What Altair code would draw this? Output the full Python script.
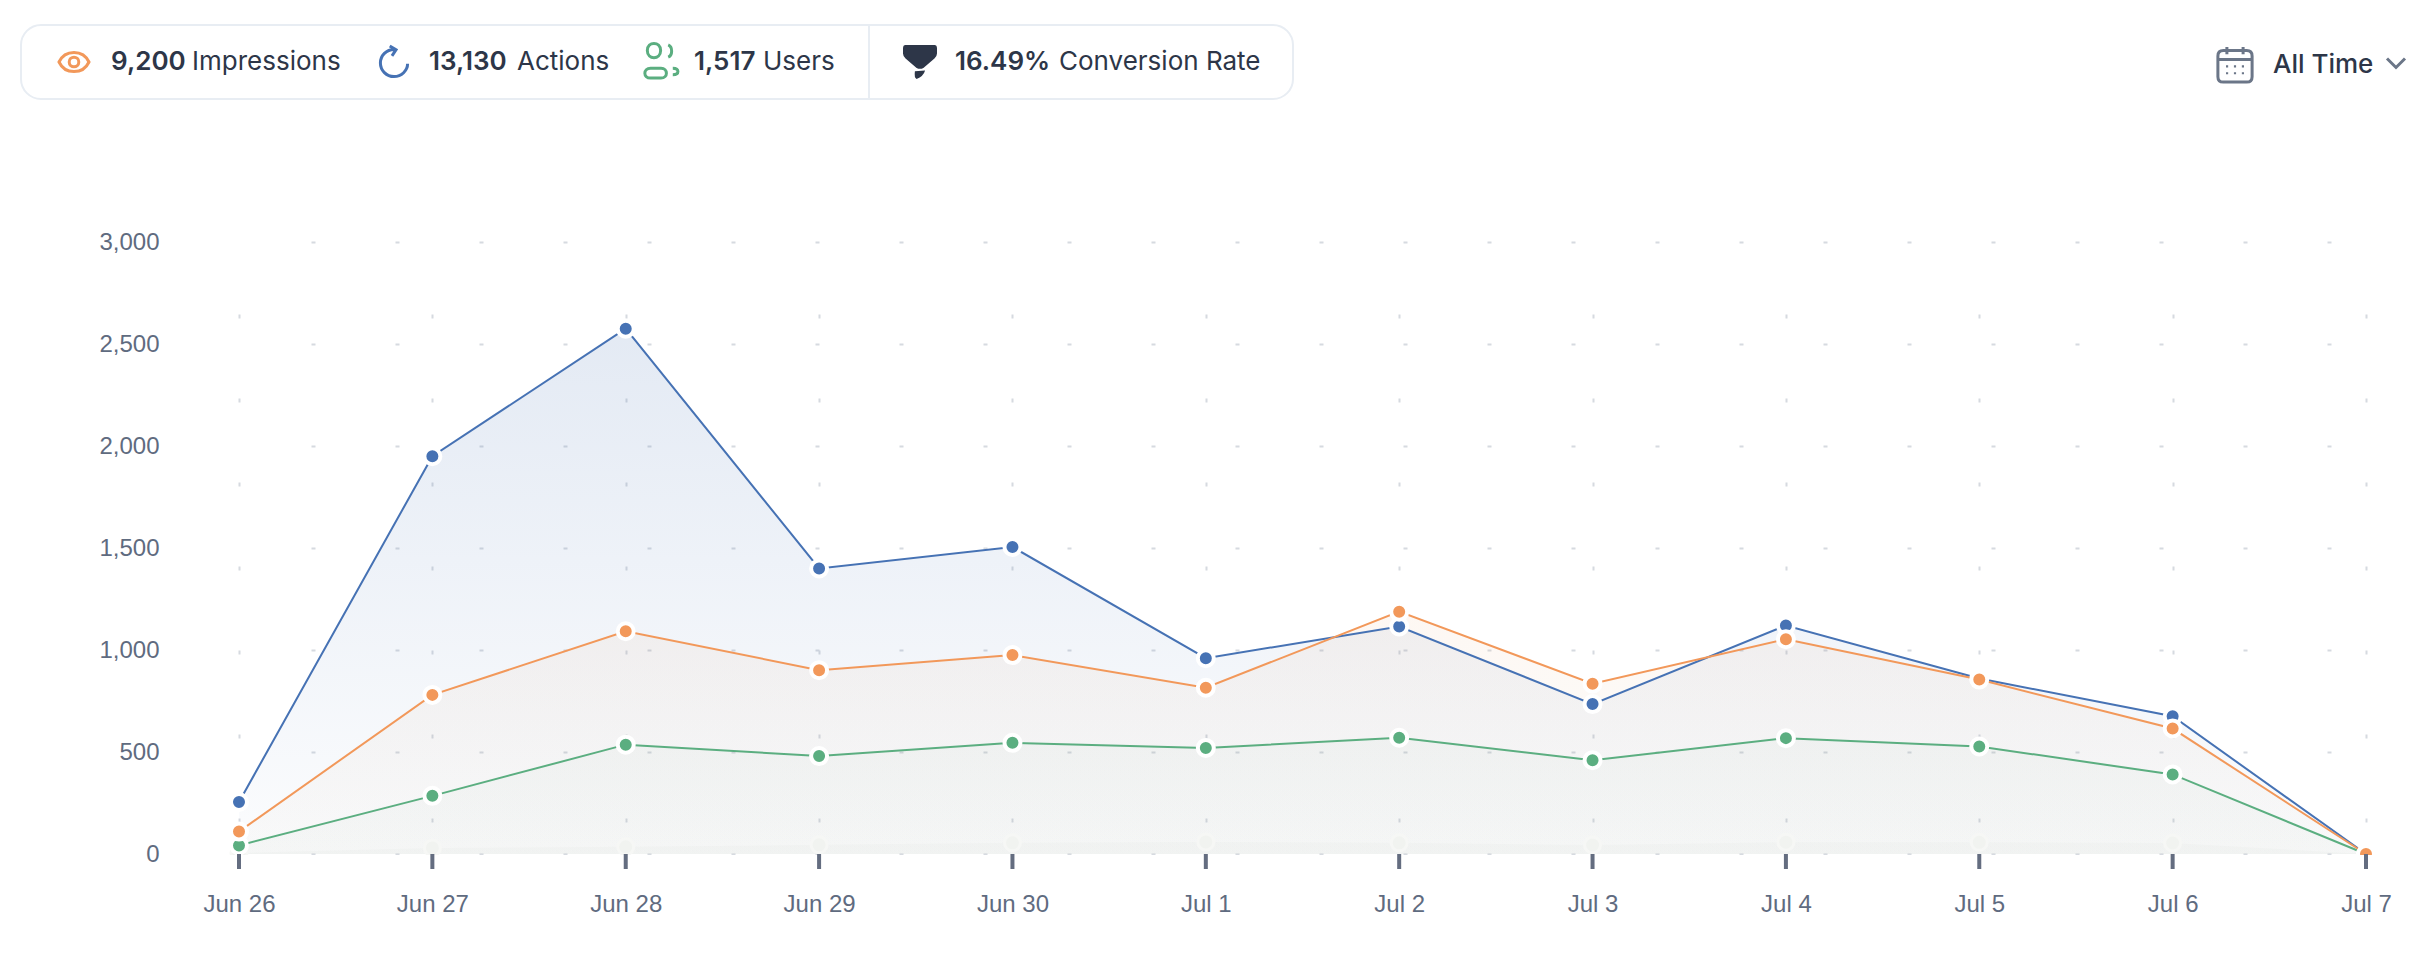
import altair as alt
import pandas as pd

dates = ["Jun 26", "Jun 27", "Jun 28", "Jun 29", "Jun 30", "Jul 1", "Jul 2", "Jul 3", "Jul 4", "Jul 5", "Jul 6", "Jul 7"]
actions = [255, 1950, 2575, 1400, 1505, 960, 1115, 735, 1120, 860, 675, 0]
impressions = [110, 780, 1092, 901, 975, 815, 1188, 835, 1053, 855, 615, 0]
users = [42, 285, 536, 480, 545, 520, 570, 460, 568, 527, 390, 0]
faint = [5, 30, 35, 45, 55, 59, 55, 44, 58, 57, 54, 0]

BLUE, ORANGE, GREEN = "#4672b4", "#f2985a", "#5bae80"
INK, MUTED, SLATE = "#2d3648", "#5f6b80", "#6b7688"
FONT = "Inter"

W, H = 2127, 612
OX, OY = 239, 242


def px(v):
    return alt.value(v - OX)


def py(v):
    return alt.value(v - OY)


x_enc = alt.X(
    "date:N",
    sort=dates,
    title=None,
    scale=alt.Scale(type="point", padding=0),
    axis=alt.Axis(
        labelAngle=0, labelFont="Liberation Sans", labelFontSize=24, labelColor=MUTED,
        labelPadding=38, ticks=False, domain=False,
        grid=True, gridColor="#d6dae0", gridWidth=2, gridDash=[4, 80], gridDashOffset=12,
    ),
)
y_enc = alt.Y(
    "value:Q",
    title=None,
    scale=alt.Scale(domain=[0, 3000], nice=False),
    axis=alt.Axis(
        values=[0, 500, 1000, 1500, 2000, 2500, 3000], format=",.0f",
        labelFont="Liberation Sans", labelFontSize=24, labelColor=MUTED, labelPadding=80,
        ticks=False, domain=False, grid=True, gridColor="#d6dae0", gridWidth=2,
        gridDash=[4, 80], gridDashOffset=12,
    ),
)


def grad(top, bottom):
    return alt.Gradient(
        gradient="linear", x1=0, x2=0, y1=0, y2=1,
        stops=[{"color": top, "offset": 0}, {"color": bottom, "offset": 1}],
    )


def frame(vals):
    return pd.DataFrame({"date": dates, "value": vals})


def area(vals, top, bottom):
    return alt.Chart(frame(vals)).mark_area(
        color=grad(top, bottom), interpolate="linear"
    ).encode(x=x_enc, y=y_enc)


def line(vals, color):
    return alt.Chart(frame(vals)).mark_line(color=color, strokeWidth=2).encode(x=x_enc, y=y_enc)


def dots(vals, color, ring="#ffffff", width=4):
    return alt.Chart(frame(vals)).mark_point(
        filled=True, fill=color, stroke=ring, strokeWidth=width, size=256, opacity=1
    ).encode(x=x_enc, y=y_enc)


one = alt.Data(values=[{"a": 1}])


def label(text, x, weight=400, baseline=70, color=INK):
    return alt.Chart(one).mark_text(
        text=text, align="left", baseline="alphabetic", font=FONT, fontSize=26,
        fontWeight=weight, color=color,
    ).encode(x=px(x), y=py(baseline))


def icon(path, cx, cy, half, color, stroke=3, filled=False):
    props = dict(shape=path, opacity=1, filled=filled)
    if filled:
        props.update(fill=color, strokeWidth=0)
    else:
        props.update(stroke=color, strokeWidth=stroke, fillOpacity=0)
    return alt.Chart(one).mark_point(**props).encode(
        x=px(cx), y=py(cy), size=alt.value((2 * half) ** 2)
    )


EYE = "M-1,0 C-0.6,-0.85 0.6,-0.85 1,0 C0.6,0.85 -0.6,0.85 -1,0 Z"
EYE_IN = "M-0.32,0 C-0.32,-0.42 0.32,-0.42 0.32,0 C0.32,0.42 -0.32,0.42 -0.32,0 Z"
RELOAD = ("M0,-0.8 C-0.44,-0.8 -0.8,-0.44 -0.8,0 C-0.8,0.44 -0.44,0.8 0,0.8 C0.44,0.8 0.8,0.44 0.8,0.05 "
          "M-0.25,-1 L0.12,-0.78 L-0.12,-0.42")
USERS = ("M-0.72,-0.55 C-0.72,-1.05 -0.02,-1.05 -0.02,-0.55 C-0.02,-0.05 -0.72,-0.05 -0.72,-0.55 Z "
         "M-0.55,0.38 L0.0,0.38 C0.38,0.38 0.38,0.9 0.0,0.9 L-0.55,0.9 C-0.95,0.9 -0.95,0.38 -0.55,0.38 Z "
         "M0.38,-0.85 C0.62,-0.75 0.62,-0.3 0.38,-0.2 M0.62,0.38 C0.98,0.38 0.98,0.72 0.62,0.72")
FUNNEL = ("M-0.85,-1 L0.85,-1 Q1,-1 1,-0.8 L1,-0.5 Q1,-0.35 0.85,-0.2 L0.2,0.35 Q0,0.45 -0.2,0.35 "
          "L-0.85,-0.2 Q-1,-0.35 -1,-0.5 L-1,-0.8 Q-1,-1 -0.85,-1 Z "
          "M-0.3,0.55 L0.3,0.5 Q0.2,0.85 -0.2,1 Q-0.35,0.95 -0.3,0.55 Z")
CALENDAR = ("M-0.65,-0.8 L0.65,-0.8 Q0.95,-0.8 0.95,-0.5 L0.95,0.65 Q0.95,0.95 0.65,0.95 L-0.65,0.95 "
            "Q-0.95,0.95 -0.95,0.65 L-0.95,-0.5 Q-0.95,-0.8 -0.65,-0.8 Z "
            "M-0.95,-0.3 L0.95,-0.3 M-0.45,-1 L-0.45,-0.6 M0.45,-1 L0.45,-0.6")
CAL_DOTS = ("M-0.5,0.02 h0.12 v0.12 h-0.12 Z M-0.06,0.02 h0.12 v0.12 h-0.12 Z M0.38,0.02 h0.12 v0.12 h-0.12 Z "
            "M-0.5,0.4 h0.12 v0.12 h-0.12 Z M-0.06,0.4 h0.12 v0.12 h-0.12 Z M0.38,0.4 h0.12 v0.12 h-0.12 Z")
CHEVRON = "M-1,-0.5 L0,0.5 L1,-0.5"

pill = alt.Chart(one).mark_rect(
    cornerRadius=20, fill="#ffffff", stroke="#e8edf3", strokeWidth=2
).encode(x=px(21), x2=px(1293), y=py(25), y2=py(99))
divider = alt.Chart(one).mark_rule(color="#e8edf3", strokeWidth=2).encode(
    x=px(869), y=py(25), y2=py(99)
)
cover = alt.Chart(one).mark_rect(fill="#ffffff").encode(
    x=px(OX - 30), x2=px(OX + W + 30), y=py(OY + H + 1), y2=py(OY + H + 18)
)
ticks = alt.Chart(frame(faint)).mark_rule(color="#646d80", strokeWidth=4).encode(
    x=x_enc, y=alt.value(H), y2=alt.value(H + 15)
)

chart = alt.layer(
    area(actions, "rgba(70,114,180,0.15)", "rgba(70,114,180,0.02)"),
    area(impressions, "rgba(235,160,100,0.08)", "rgba(190,175,150,0.04)"),
    area(users, "rgba(100,160,125,0.035)", "rgba(120,150,130,0.03)"),
    area(faint, "rgba(120,140,120,0.03)", "rgba(120,140,120,0.03)"),
    dots(faint, "#f1f3f0", ring="#f6f7f5", width=3),
    line(actions, BLUE), dots(actions, BLUE),
    line(users, GREEN), dots(users, GREEN),
    line(impressions, ORANGE), dots(impressions, ORANGE),
    cover, ticks,
    pill, divider,
    icon(EYE, 74, 62, 15, ORANGE), icon(EYE_IN, 74, 62, 15, ORANGE),
    label("9,200", 111, 600), label("Impressions", 192),
    icon(RELOAD, 394, 63, 17, BLUE),
    label("13,130", 429, 600), label("Actions", 517),
    icon(USERS, 661, 61, 19, GREEN),
    label("1,517", 694, 600), label("Users", 763),
    icon(FUNNEL, 920, 62, 17, INK, filled=True),
    label("16.49%", 955, 600), label("Conversion Rate", 1059),
    icon(CALENDAR, 2235, 65, 18, SLATE), icon(CAL_DOTS, 2235, 65, 18, SLATE, filled=True),
    label("All Time", 2273, 500, baseline=73),
    icon(CHEVRON, 2396, 63, 9, SLATE),
).properties(
    width=W, height=H, background="#ffffff",
    autosize=alt.AutoSizeParams(type="none"),
    padding={"left": OX - 8, "top": OY - 8, "right": 2420 - (OX - 8) - W, "bottom": 958 - (OY - 8) - H},
).configure_view(stroke=None)

chart.save("out.html", embed_options={"renderer": "svg", "actions": False})
